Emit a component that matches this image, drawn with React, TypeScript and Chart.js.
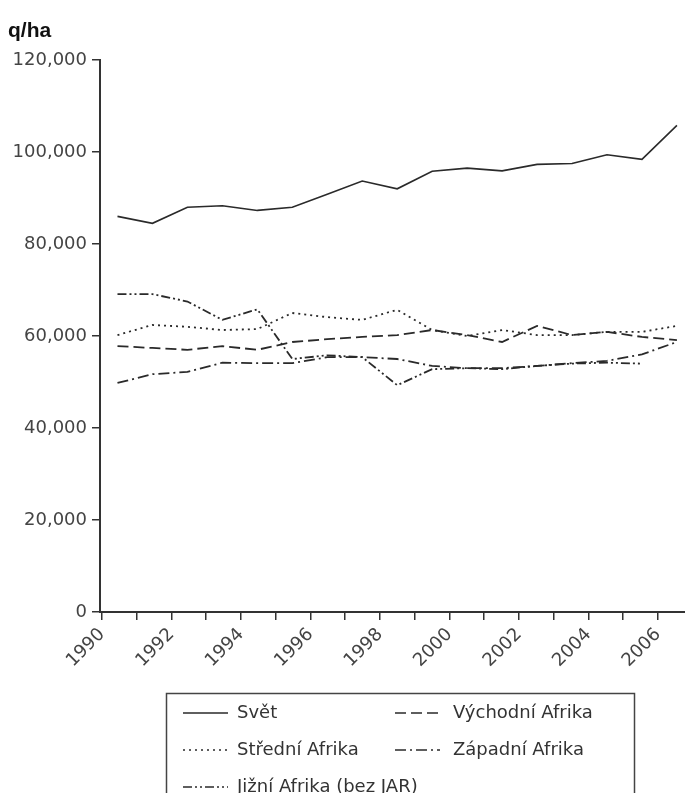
import React, { useEffect, useRef } from 'react';
import { Chart, registerables } from 'chart.js';

Chart.register(...registerables);

const years = ['1990', '1991', '1992', '1993', '1994', '1995', '1996', '1997', '1998', '1999', '2000', '2001', '2002', '2003', '2004', '2005', '2006'];
const xTickLabels = ['1990', '1992', '1994', '1996', '1998', '2000', '2002', '2004', '2006'];
const yTickValues = [0, 20000, 40000, 60000, 80000, 100000, 120000];

const svet = [86000, 84500, 88000, 88300, 87300, 88000, 90800, 93700, 92000, 95800, 96500, 95900, 97300, 97500, 99400, 98400, 105800];
const vychodni = [57800, 57400, 57000, 57800, 57000, 58700, 59300, 59800, 60200, 61300, 60200, 58700, 62200, 60200, 60900, 59800, 59100];
const stredni = [60200, 62400, 62000, 61300, 61500, 65000, 64100, 63500, 65700, 61300, 60000, 61300, 60200, 60200, 60900, 60900, 62200];
const zapadni = [49800, 51700, 52200, 54200, 54100, 54100, 55400, 55400, 55000, 53500, 53000, 53000, 53500, 54100, 54600, 56000, 58700];
const jizni = [69100, 69100, 67500, 63500, 65800, 55000, 55800, 55400, 49300, 52800, 53000, 52800, 53500, 54000, 54200, 54000, null];

const seriesNames = ['Svět', 'Východní Afrika', 'Střední Afrika', 'Západní Afrika', 'Jižní Afrika (bez JAR)'];
const unitLabel = 'q/ha';

const LINE = '#2a2a2a';
const FONT = '"DejaVu Sans", Verdana, sans-serif';

const boxLegend = {
  id: 'boxLegend',
  afterDraw(chart: any) {
    const ctx = chart.ctx;
    ctx.save();
    ctx.fillStyle = '#111';
    ctx.font = 'bold 21px "Liberation Sans", Arial, sans-serif';
    ctx.textBaseline = 'alphabetic';
    ctx.textAlign = 'left';
    ctx.fillText(unitLabel, 8, 37);

    ctx.strokeStyle = '#444';
    ctx.lineWidth = 1.5;
    ctx.strokeRect(166.5, 693.5, 468, 140);

    const colSample = [183, 395];
    const colText = [237, 453];
    const rows = [713, 750, 787];
    ctx.font = '18px ' + FONT;
    ctx.textBaseline = 'middle';
    chart.data.datasets.forEach((ds: any, i: number) => {
      const col = i % 2;
      const row = Math.floor(i / 2);
      const y = rows[row];
      ctx.beginPath();
      ctx.setLineDash(ds.borderDash || []);
      ctx.lineWidth = 1.6;
      ctx.strokeStyle = LINE;
      ctx.moveTo(colSample[col], y);
      ctx.lineTo(colSample[col] + 45, y);
      ctx.stroke();
      ctx.setLineDash([]);
      ctx.fillStyle = '#333';
      ctx.fillText(ds.label, colText[col], y);
    });
    ctx.restore();
  },
};

export default function App() {
  const ref = useRef<HTMLCanvasElement | null>(null);
  useEffect(() => {
    if (!ref.current) return;
    const mk = (label: string, data: any[], dash: number[], width: number) => ({
      label,
      data,
      borderColor: LINE,
      backgroundColor: LINE,
      borderWidth: width,
      borderDash: dash,
      pointRadius: 0,
      tension: 0,
      xAxisID: 'xc',
      yAxisID: 'y',
    });
    const chart = new Chart(ref.current, {
      type: 'line',
      data: {
        labels: years,
        datasets: [
          mk(seriesNames[0], svet, [], 1.6),
          mk(seriesNames[1], vychodni, [11, 5], 1.8),
          mk(seriesNames[2], stredni, [2, 4], 1.8),
          mk(seriesNames[3], zapadni, [11, 4, 2, 4], 1.8),
          mk(seriesNames[4], jizni, [9, 3, 2, 3, 2, 3], 1.8),
        ],
      },
      options: {
        responsive: false,
        animation: false,
        locale: 'en-US',
        layout: { padding: { top: 60, right: 11, left: 0, bottom: 0 } },
        plugins: { legend: { display: false }, title: { display: false }, tooltip: { enabled: false } },
        scales: {
          xc: {
            type: 'category',
            position: 'bottom',
            offset: true,
            display: false,
          },
          x: {
            type: 'linear',
            position: 'bottom',
            min: 1989.943,
            max: 2007.05,
            afterFit: (s: any) => { s.height = 189; },
            border: { display: true, color: '#333', width: 2 },
            grid: { drawOnChartArea: false, drawTicks: true, tickLength: 8, color: '#333', lineWidth: 1.5 },
            ticks: {
              stepSize: 1,
              includeBounds: false,
              autoSkip: false,
              minRotation: 45,
              maxRotation: 45,
              padding: 4,
              color: '#444',
              font: { family: FONT, size: 18 },
              callback: (v: any) => (xTickLabels.includes(String(v)) ? String(v) : ''),
            },
          },
          y: {
            min: 0,
            max: 120000,
            afterFit: (s: any) => { s.width = 100; },
            afterBuildTicks: (s: any) => { s.ticks = yTickValues.map((value) => ({ value })); },
            border: { display: true, color: '#333', width: 2 },
            grid: { drawOnChartArea: false, drawTicks: true, tickLength: 8, color: '#333', lineWidth: 1.5 },
            ticks: {
              padding: 5,
              color: '#444',
              font: { family: FONT, size: 18 },
              callback: (v: any) => Number(v).toLocaleString('en-US'),
            },
          },
        },
      },
      plugins: [boxLegend],
    } as any);
    return () => chart.destroy();
  }, []);
  return (
    <div style={{ width: 693, height: 801, overflow: 'hidden', margin: -8, position: 'relative', background: '#fff' }}>
      <canvas ref={ref} width={712} height={801} style={{ display: 'block', width: 712, height: 801 }} />
    </div>
  );
}
